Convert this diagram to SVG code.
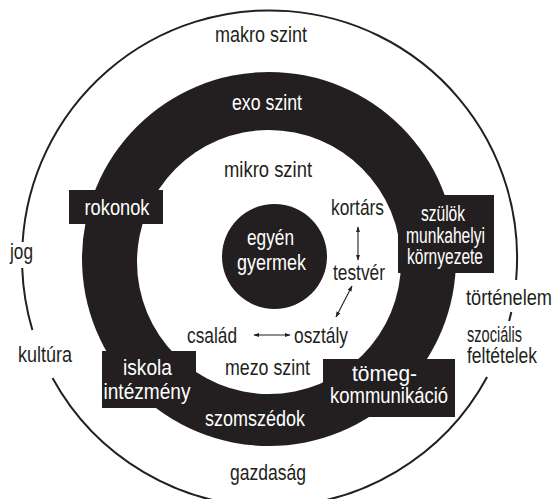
<svg xmlns="http://www.w3.org/2000/svg" width="556" height="499" viewBox="0 0 556 499">
<defs>
<style>
text{font-family:"Liberation Sans",Arial,sans-serif;font-size:22px;fill:#231f20;text-anchor:middle}
text.w{fill:#fff}
text.s{text-anchor:start}
.ring{fill:none;stroke:#231f20;stroke-width:2}
.blk{fill:#231f20}
.arr{stroke:#231f20;stroke-width:1.1;fill:none;marker-start:url(#ah);marker-end:url(#ah)}
</style>
<marker id="ah" viewBox="0 0 10 10" refX="9" refY="5" markerWidth="6" markerHeight="6" markerUnits="userSpaceOnUse" orient="auto-start-reverse">
<path d="M0,1.5 L10,5 L0,8.5 z" fill="#231f20"/>
</marker>
</defs>
<rect width="556" height="499" fill="#fff"/>
<g id="makro">
<path class="ring" d="M22.6,242 A247.5,247.5 0 1 1 516.1,280"/>
<path class="ring" d="M22.2,268 A247.5,247.5 0 0 0 32.4,330"/>
<path class="ring" d="M511.3,312 A247.5,247.5 0 0 1 509.1,321"/>
<path class="ring" d="M487.1,377 A247.5,247.5 0 0 1 52.5,378"/>
<text x="261" y="42" textLength="92" lengthAdjust="spacingAndGlyphs">makro szint</text>
<text x="21.5" y="259" textLength="23" lengthAdjust="spacingAndGlyphs">jog</text>
<text x="45" y="362" textLength="54" lengthAdjust="spacingAndGlyphs">kultúra</text>
<text class="s" x="466" y="305" textLength="86" lengthAdjust="spacingAndGlyphs">történelem</text>
<text class="s" x="467" y="342" textLength="55" lengthAdjust="spacingAndGlyphs">szociális</text>
<text class="s" x="467" y="363" textLength="70" lengthAdjust="spacingAndGlyphs">feltételek</text>
<text x="268" y="480" textLength="76" lengthAdjust="spacingAndGlyphs">gazdaság</text>
</g>
<g id="exo">
<circle class="blk" cx="269" cy="259" r="187"/>
<text class="w" x="267" y="110" textLength="70" lengthAdjust="spacingAndGlyphs">exo szint</text>
<text class="w" x="255" y="426" textLength="100" lengthAdjust="spacingAndGlyphs">szomszédok</text>
</g>
<g id="mikro">
<circle cx="269" cy="262" r="132" fill="#fff"/>
<text x="268" y="177" textLength="88" lengthAdjust="spacingAndGlyphs">mikro szint</text>
<text x="267.5" y="375" textLength="85" lengthAdjust="spacingAndGlyphs">mezo szint</text>
</g>
<g id="rokonok">
<rect class="blk" x="69" y="190" width="94" height="34"/>
<text class="w" x="117" y="215" textLength="65" lengthAdjust="spacingAndGlyphs">rokonok</text>
</g>
<g id="szulok">
<rect class="blk" x="398" y="195" width="96" height="78"/>
<text class="w" x="443" y="221" textLength="44" lengthAdjust="spacingAndGlyphs">szülök</text>
<text class="w" x="445.5" y="243" textLength="79" lengthAdjust="spacingAndGlyphs">munkahelyi</text>
<text class="w" x="445" y="264" textLength="76" lengthAdjust="spacingAndGlyphs">környezete</text>
</g>
<g id="iskola">
<rect class="blk" x="102" y="351" width="94" height="57"/>
<text class="w" x="147.5" y="375" textLength="49" lengthAdjust="spacingAndGlyphs">iskola</text>
<text class="w" x="147" y="399" textLength="87" lengthAdjust="spacingAndGlyphs">intézmény</text>
</g>
<g id="tomeg">
<rect class="blk" x="323" y="359" width="132" height="58"/>
<text class="w" x="384.5" y="381" textLength="65" lengthAdjust="spacingAndGlyphs">tömeg-</text>
<text class="w" x="389" y="403" textLength="118" lengthAdjust="spacingAndGlyphs">kommunikáció</text>
</g>
<g id="egyen">
<circle class="blk" cx="274.5" cy="256.5" r="52.5"/>
<text class="w" x="270.5" y="245" textLength="47" lengthAdjust="spacingAndGlyphs">egyén</text>
<text class="w" x="271.5" y="270" textLength="69" lengthAdjust="spacingAndGlyphs">gyermek</text>
</g>
<g id="kortars"><text x="357.5" y="215" textLength="53" lengthAdjust="spacingAndGlyphs">kortárs</text></g>
<g id="testver"><text x="359" y="280" textLength="52" lengthAdjust="spacingAndGlyphs">testvér</text></g>
<g id="csalad"><text x="212" y="343" textLength="50" lengthAdjust="spacingAndGlyphs">család</text></g>
<g id="osztaly"><text x="321" y="343" textLength="54" lengthAdjust="spacingAndGlyphs">osztály</text></g>
<g id="connectors">
<line class="arr" x1="358" y1="227" x2="358" y2="260"/>
<line class="arr" x1="352" y1="286" x2="336" y2="317"/>
<line class="arr" x1="254" y1="335" x2="290" y2="335"/>
</g>
</svg>
